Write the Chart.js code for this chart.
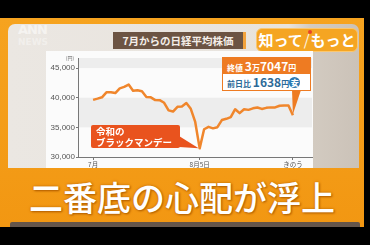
<!DOCTYPE html>
<html>
<head>
<meta charset="utf-8">
<script src="https://cdn.jsdelivr.net/npm/chart.js@4"></script>
<style>
  body { margin: 0; width: 370px; height: 245px; background: #000; overflow: hidden; position: relative; font-family: "Noto Sans CJK JP", sans-serif; }
  .abs { position: absolute; }
  #frame { left: 0; top: 18px; width: 364px; height: 209px; background: linear-gradient(#f6a31f, #f29712); }
  #panel { left: 8px; top: 24px; width: 351px; height: 144px; border-radius: 7px 7px 0 0;
    background: linear-gradient(to right, #ebe7e2 0%, #e8e3dd 80%, #d3cbc1 86%, #cbc2b8 100%); }
  #chart { left: 46px; top: 51px; background: #fbfbfb; }
  #wm { left: 18px; top: 24px; color: rgba(255,255,255,0.55); font: bold 13px "DejaVu Sans", sans-serif; letter-spacing: -1px; line-height: 12px; }
  #wm small { font-size: 9px; display: block; letter-spacing: 0; opacity: .7; }
  #title { left: 113px; top: 32px; width: 130px; height: 17px; background: #6c5443; color: #f4eee8;
    font-size: 10.5px; font-weight: bold; line-height: 17px; text-align: center; border-right: 3px solid #f2a23c; }
  #badge { left: 256px; top: 28px; width: 102px; height: 24px; border-radius: 6px; background: #f5a522; white-space: nowrap;
    border: 1px solid #fbc76f; box-sizing: border-box; color: #fff; font-size: 15px; font-weight: bold; line-height: 22px; text-align: center; }
  #badge i { font-style: normal; font-weight: normal; color: #fff6e8; margin: 0 1px; position: relative; }
  #badge i::before { content: ""; position: absolute; left: 4px; top: 1px; width: 4px; height: 4px; border-radius: 2px; background: #e8452a; }
  #close1 { left: 222px; top: 57px; width: 89px; height: 17px; background: #ee7b22; color: #fff; box-sizing: border-box;
    font-weight: bold; font-size: 12px; line-height: 17px; padding-left: 5px; white-space: nowrap; }
  #close1 s, #close2 s { text-decoration: none; font-size: 8px; }
  #close2 { left: 222px; top: 74px; width: 89px; height: 17px; background: #fff; border: 1.5px solid #ee7b22; border-top: none; box-sizing: border-box;
    color: #2c6a98; font-weight: bold; font-size: 12px; line-height: 15px; padding-left: 4px; white-space: nowrap; }
  #close2 b { display: inline-block; width: 11px; height: 11px; border-radius: 6px; background: #2c78b2; color: #fff; font-size: 8px; line-height: 11px; text-align: center; vertical-align: 1px; }
  #black { left: 91px; top: 125px; width: 89px; height: 23px; background: #e9531e; border-radius: 2px; color: #fff;
    font-size: 9.5px; font-weight: bold; line-height: 10.5px; padding: 1px 0 0 5px; box-sizing: border-box; white-space: nowrap; }
  #sub { left: 0; top: 176px; width: 364px; text-align: center; color: #fff; font-size: 34px; font-weight: 500; line-height: 42px;
    text-shadow: 0 0 3px #c06a00, 1px 1px 2px #b05e00; }
  #lower { left: 10px; top: 222px; width: 350px; height: 5px; background: #65564b; border-radius: 2px 2px 0 0; }
</style>
</head>
<body>
<div id="frame" class="abs"></div>
<div id="panel" class="abs"></div>
<div id="wm" class="abs">ANN<small>NEWS</small></div>
<div id="title" class="abs">7月からの日経平均株価</div>
<div id="badge" class="abs">知って<i>/</i>もっと</div>
<canvas id="chart" class="abs" width="267" height="117"></canvas>
<div id="close1" class="abs"><s>終値 </s>3<s>万</s>7047<s>円</s></div>
<div id="close2" class="abs"><s>前日比 </s>1638<s>円</s><b>安</b></div>
<div id="black" class="abs">令和の<br>ブラックマンデー</div>
<div id="sub" class="abs">二番底の心配が浮上</div>
<div id="lower" class="abs"></div>
<script>
// trading days from 7/1 to "yesterday" (9/4)
const dates = [
  "7/1","7/2","7/3","7/4","7/5","7/8","7/9","7/10","7/11","7/12",
  "7/16","7/17","7/18","7/19","7/22","7/23","7/24","7/25","7/26","7/29",
  "7/30","7/31","8/1","8/2","8/5","8/6","8/7","8/8","8/9","8/13",
  "8/14","8/15","8/16","8/19","8/20","8/21","8/22","8/23","8/26","8/27",
  "8/28","8/29","8/30","9/2","9/3","9/4"
];
const closes = [
  39630, 39840, 40070, 40910, 40910, 40780, 41580, 41830, 42220, 41190,
  41270, 41100, 40130, 40060, 39600, 39590, 39150, 37870, 37670, 38470,
  38530, 39100, 38130, 35910, 31460, 34680, 35090, 34830, 35030, 36230,
  36440, 36730, 38060, 37390, 38060, 37950, 38210, 38360, 38110, 38290,
  38370, 38360, 38650, 38700, 38690, 37050
];
const yTicks = [30000, 35000, 40000, 45000];
const yMin = 30000, yMax = 46700;
const bands = [[35000, 40000], [45000, 46700]];
const xTickIdx = [0, 24, 45];
const xTickText = ["7月", "8月5日", "きのう"];
const bottomIdx = 24, lastIdx = 45;

const bandPlugin = {
  id: "bands",
  beforeDatasetsDraw(chart) {
    const { ctx, chartArea, scales } = chart;
    ctx.save();
    ctx.fillStyle = "#ededed";
    bands.forEach(([a, b]) => {
      const y1 = scales.y.getPixelForValue(b), y2 = scales.y.getPixelForValue(a);
      ctx.fillRect(chartArea.left + 1, y1, chartArea.right - chartArea.left - 1, y2 - y1);
    });
    ctx.fillStyle = "#666";
    ctx.font = "5px 'Noto Sans CJK JP'";
    ctx.textAlign = "center";
    ctx.fillText("(円)", chartArea.left - 8, chartArea.top + 2);
    ctx.restore();
  }
};

// callout pointers anchored to data points
const pointerPlugin = {
  id: "pointers",
  afterDatasetsDraw(chart) {
    const { ctx } = chart;
    const pts = chart.getDatasetMeta(0).data;
    const cx = chart.canvas.offsetLeft, cy = chart.canvas.offsetTop;
    ctx.save();
    const a = pts[bottomIdx];
    ctx.fillStyle = "#e9531e";
    ctx.beginPath();
    ctx.moveTo(179 - cx, 136 - cy);
    ctx.lineTo(a.x - 1, a.y);
    ctx.lineTo(179 - cx, 147 - cy);
    ctx.closePath();
    ctx.fill();
    const b = pts[lastIdx];
    ctx.fillStyle = "#ee7b22";
    ctx.beginPath();
    ctx.moveTo(292 - cx, 90 - cy);
    ctx.lineTo(b.x, b.y - 1);
    ctx.lineTo(301 - cx, 90 - cy);
    ctx.closePath();
    ctx.fill();
    ctx.restore();
  }
};

new Chart(document.getElementById("chart"), {
  type: "line",
  data: {
    datasets: [{
      data: closes.map((v, i) => ({ x: i, y: v })),
      borderColor: "#f0862c",
      borderWidth: 2.5,
      borderJoinStyle: "round",
      pointRadius: 0,
      tension: 0,
      fill: false
    }]
  },
  options: {
    responsive: false,
    animation: false,
    layout: { padding: { top: 7, right: 1 } },
    plugins: { legend: { display: false }, tooltip: { enabled: false } },
    scales: {
      x: {
        type: "linear",
        min: -3.4,
        max: 49.3,
        afterBuildTicks: s => { s.ticks = xTickIdx.map(v => ({ value: v })); },
        afterFit: s => { s.height = 11; },
        ticks: {
          autoSkip: false, maxRotation: 0, padding: 1,
          color: "#555", font: { size: 6.5, family: "'Noto Sans CJK JP'" },
          callback: v => xTickText[xTickIdx.indexOf(v)]
        },
        grid: { drawOnChartArea: false, tickLength: 3, color: "#777" },
        border: { color: "#777" }
      },
      y: {
        min: yMin,
        max: yMax,
        afterBuildTicks: s => { s.ticks = yTicks.map(v => ({ value: v })); },
        afterFit: s => { s.width = 32; },
        ticks: {
          padding: 1, color: "#555",
          font: { size: 8, family: "'Liberation Sans'" },
          callback: v => v.toLocaleString("en-US")
        },
        grid: { drawOnChartArea: false, tickLength: 2, color: "#777" },
        border: { color: "#777" }
      }
    }
  },
  plugins: [bandPlugin, pointerPlugin]
});
</script>
</body>
</html>
